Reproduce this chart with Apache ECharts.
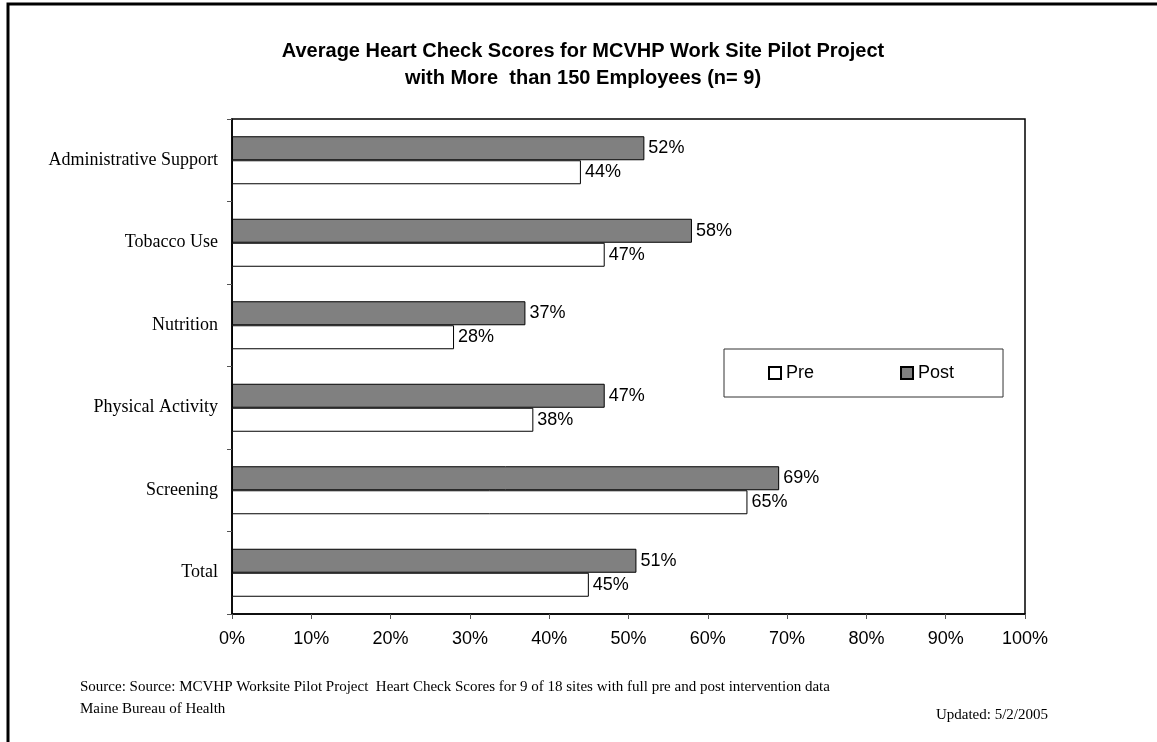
<!DOCTYPE html>
<html>
<head>
<meta charset="utf-8">
<script src="https://cdn.jsdelivr.net/npm/echarts@6/dist/echarts.min.js"></script>
<style>
  html, body { margin: 0; padding: 0; background: #fff; }
  #chart { width: 1157px; height: 742px; }
</style>
</head>
<body>
<div id="chart"></div>
<script>
// categories top to bottom
const categories = ['Administrative Support', 'Tobacco Use', 'Nutrition', 'Physical Activity', 'Screening', 'Total']
const postValues = [52, 58, 37, 47, 69, 51]
const preValues = [44, 47, 28, 38, 65, 45]
const xTicks = { min: 0, max: 100, interval: 10 }

const chart = echarts.init(document.getElementById('chart'))

const labelStyle = {
  show: true,
  position: 'right',
  distance: 4,
  formatter: '{c}%',
  color: '#000',
  fontFamily: 'Liberation Sans',
  fontSize: 18
}

const option = {
  animation: false,
  backgroundColor: '#fff',
  title: {
    text: 'Average Heart Check Scores for MCVHP Work Site Pilot Project\nwith More  than 150 Employees (n= 9)',
    left: 578,
    top: 33,
    textAlign: 'center',
    textStyle: {
      fontFamily: 'Liberation Sans',
      fontWeight: 'bold',
      fontSize: 20,
      lineHeight: 27,
      color: '#000'
    }
  },
  legend: {
    data: ['Pre', 'Post'],
    left: 724,
    top: 349,
    orient: 'horizontal',
    padding: [15, 49, 15, 44],
    itemGap: 86,
    itemWidth: 12,
    itemHeight: 12,
    icon: 'rect',
    borderColor: '#333',
    borderWidth: 1,
    textStyle: { fontFamily: 'Liberation Sans', fontSize: 18, color: '#000' }
  },
  grid: {
    left: 232,
    right: 132,
    top: 119,
    bottom: 128,
    show: true,
    borderColor: '#000',
    borderWidth: 1.5
  },
  xAxis: {
    type: 'value',
    min: xTicks.min,
    max: xTicks.max,
    interval: xTicks.interval,
    axisLine: { show: true, lineStyle: { color: '#000', width: 1.5 } },
    axisTick: { show: true, length: 5, lineStyle: { color: '#555' } },
    splitLine: { show: false },
    axisLabel: {
      formatter: '{value}%',
      margin: 16,
      color: '#000',
      fontFamily: 'Liberation Sans',
      fontSize: 18
    }
  },
  yAxis: {
    type: 'category',
    data: categories,
    inverse: true,
    axisLine: { show: true, lineStyle: { color: '#000', width: 1.5 } },
    axisTick: { show: true, length: 5, lineStyle: { color: '#555' } },
    axisLabel: {
      margin: 14,
      color: '#000',
      fontFamily: 'Liberation Serif',
      fontSize: 18
    }
  },
  series: [
    {
      name: 'Post',
      type: 'bar',
      data: postValues,
      barWidth: 24,
      barGap: '0%',
      itemStyle: { color: '#808080', borderColor: '#000', borderWidth: 1 },
      label: labelStyle
    },
    {
      name: 'Pre',
      type: 'bar',
      data: preValues,
      barWidth: 24,
      barGap: '0%',
      itemStyle: { color: '#fff', borderColor: '#000', borderWidth: 1 },
      label: labelStyle
    }
  ],
  graphic: [
    {
      type: 'polyline',
      shape: { points: [[8, 742], [8, 4], [1157, 4]] },
      style: { stroke: '#000', lineWidth: 3, fill: null }
    },
    {
      type: 'text',
      left: 80,
      top: 680,
      style: {
        text: 'Source: Source: MCVHP Worksite Pilot Project  Heart Check Scores for 9 of 18 sites with full pre and post intervention data',
        font: '15px "Liberation Serif"',
        fill: '#000'
      }
    },
    {
      type: 'text',
      left: 80,
      top: 702,
      style: {
        text: 'Maine Bureau of Health',
        font: '15px "Liberation Serif"',
        fill: '#000'
      }
    },
    {
      type: 'text',
      right: 109,
      top: 708,
      style: {
        text: 'Updated: 5/2/2005',
        font: '15px "Liberation Serif"',
        fill: '#000'
      }
    }
  ]
}

chart.setOption(option)
</script>
</body>
</html>
